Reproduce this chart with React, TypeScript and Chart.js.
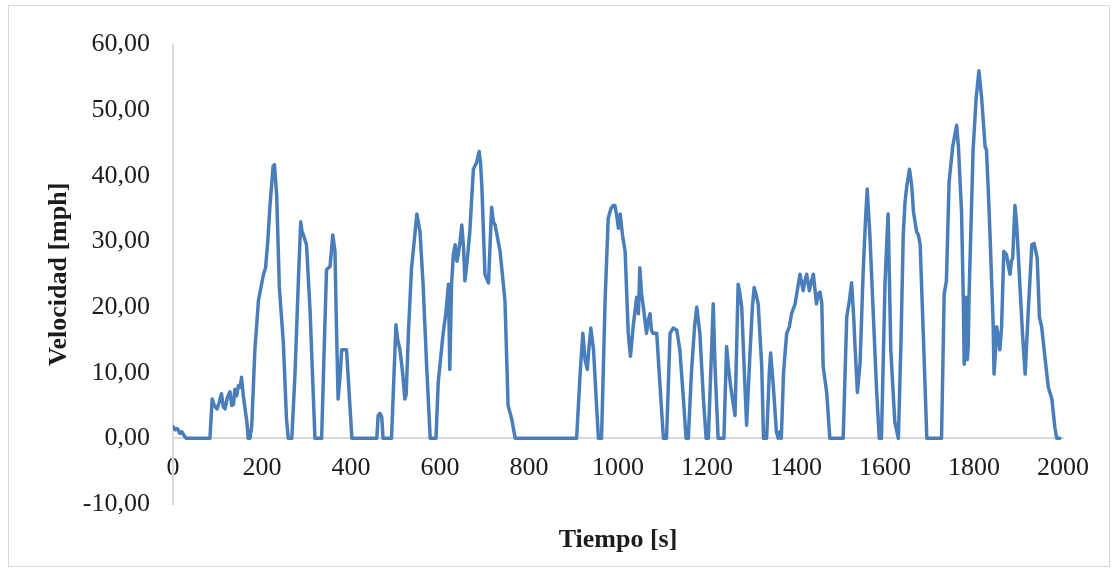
import React, { useEffect, useRef } from 'react';
import { Chart, registerables } from 'chart.js';

Chart.register(...registerables);

// Time (s) of each vertex of the speed trace
const timeS: number[] = [
  0, 5, 10, 15, 20, 26, 30, 83, 88, 93, 99, 104, 109, 113, 117, 122, 128, 132, 136, 139,
  143, 147, 151, 154, 158, 162, 166, 169, 173, 177, 184, 192, 203, 208, 213, 218, 225, 228, 233, 239,
  248, 255, 259, 267, 274, 282, 287, 290, 293, 300, 308, 315, 319, 334, 338, 345, 353, 359, 364, 367,
  371, 376, 379, 390, 402, 458, 461, 465, 469, 472, 491, 501, 505, 510, 516, 521, 524, 529, 536, 542,
  548, 555, 562, 570, 578, 591, 596, 607, 613, 619, 622, 626, 630, 634, 638, 641, 645, 649, 653, 656,
  661, 667, 675, 682, 688, 691, 694, 701, 709, 716, 720, 724, 735, 746, 753, 757, 761, 769, 907, 915,
  921, 926, 931, 935, 939, 945, 951, 956, 963, 971, 978, 984, 989, 993, 997, 1001, 1005, 1010, 1016, 1023,
  1028, 1034, 1042, 1046, 1049, 1053, 1057, 1064, 1068, 1072, 1075, 1079, 1087, 1094, 1102, 1109, 1117, 1124, 1132, 1139,
  1147, 1153, 1158, 1165, 1172, 1177, 1184, 1192, 1198, 1203, 1214, 1218, 1225, 1238, 1244, 1248, 1253, 1263, 1268, 1270,
  1274, 1278, 1284, 1289, 1297, 1302, 1306, 1310, 1315, 1323, 1327, 1334, 1340, 1343, 1349, 1356, 1360, 1364, 1367, 1372,
  1379, 1385, 1390, 1398, 1404, 1409, 1416, 1420, 1424, 1430, 1435, 1439, 1446, 1450, 1454, 1458, 1461, 1469, 1476, 1506,
  1514, 1520, 1525, 1530, 1533, 1538, 1544, 1551, 1556, 1560, 1566, 1574, 1581, 1587, 1592, 1600, 1604, 1607, 1610, 1613,
  1622, 1630, 1636, 1641, 1645, 1649, 1655, 1660, 1664, 1671, 1675, 1679, 1686, 1694, 1727, 1733, 1738, 1744, 1752, 1761,
  1765, 1772, 1776, 1778, 1781, 1783, 1785, 1787, 1789, 1791, 1798, 1805, 1811, 1817, 1825, 1828, 1832, 1836, 1843, 1845,
  1848, 1851, 1855, 1858, 1862, 1867, 1873, 1878, 1881, 1884, 1887, 1892, 1896, 1903, 1909, 1915, 1922, 1930, 1935, 1942,
  1947, 1952, 1960, 1967, 1975, 1982, 1986, 1993,
];

// Speed (mph) at each vertex
const speedMph: number[] = [
  1.8, 1.3, 1.5, 0.8, 1.0, 0.3, 0, 0, 6.0, 5.0, 4.5, 5.5, 6.8, 4.8, 4.5, 6.2, 7.1, 5.0, 5.2, 7.5,
  6.5, 8.0, 7.8, 9.3, 6.5, 4.5, 2.5, 0, 0, 2.0, 13.5, 21.0, 24.9, 26.0, 30.0, 35.5, 41.5, 41.7, 37.0, 23.0,
  14.5, 3.0, 0, 0, 9.6, 24.5, 33.0, 31.5, 31.0, 29.5, 19.5, 7.0, 0, 0, 9.6, 25.7, 26.2, 31.0, 28.5, 18.0,
  6.0, 10.0, 13.5, 13.5, 0, 0, 3.5, 3.8, 3.3, 0, 0, 17.3, 15.0, 13.5, 10.0, 6.0, 6.7, 16.0, 26.0, 30.0,
  34.2, 31.5, 23.5, 11.0, 0, 0, 8.5, 16.0, 19.0, 23.5, 10.5, 23.5, 28.0, 29.5, 27.0, 28.0, 30.0, 32.5, 29.0, 24.0,
  27.0, 31.5, 41.0, 42.0, 43.7, 42.0, 38.5, 25.0, 23.7, 35.2, 33.0, 32.5, 28.5, 21.0, 5.0, 4.0, 3.0, 0, 0, 10.0,
  16.0, 12.0, 10.5, 14.0, 16.8, 13.5, 6.0, 0, 0, 21.0, 33.5, 35.0, 35.5, 35.5, 34.0, 32.0, 34.2, 31.0, 28.5, 16.0,
  12.5, 17.0, 21.5, 19.0, 26.0, 22.0, 20.0, 16.0, 18.0, 19.0, 16.5, 16.0, 16.0, 8.5, 0, 0, 16.0, 16.8, 16.5, 13.5,
  6.0, 0, 0, 10.0, 17.0, 20.0, 16.0, 6.0, 0, 0, 20.5, 11.0, 0, 0, 14.0, 11.0, 8.0, 3.5, 18.0, 23.5,
  22.0, 20.0, 10.0, 2.0, 13.5, 20.0, 23.0, 22.0, 20.5, 11.0, 0, 0, 10.0, 13.0, 8.0, 1.0, 0, 1.0, 0, 10.0,
  16.0, 17.0, 19.0, 20.5, 23.0, 25.0, 22.5, 24.0, 25.0, 22.5, 24.0, 25.0, 20.5, 22.0, 22.3, 20.5, 11.0, 7.0, 0, 0,
  18.5, 21.0, 23.7, 18.0, 13.5, 7.0, 11.5, 25.5, 33.0, 38.0, 31.0, 18.5, 7.5, 0, 0, 23.5, 30.0, 34.2, 24.0, 13.5,
  2.5, 0, 15.0, 31.0, 36.0, 38.5, 41.0, 38.5, 34.5, 31.5, 31.0, 29.5, 16.0, 0, 0, 22.0, 24.0, 39.0, 44.4, 47.7,
  44.4, 34.5, 21.0, 11.3, 20.0, 21.5, 12.0, 14.0, 22.0, 22.0, 44.0, 52.0, 56.0, 52.0, 44.4, 44.0, 38.0, 31.0, 17.5, 9.8,
  13.0, 17.0, 15.0, 13.5, 17.0, 28.5, 28.0, 26.0, 25.0, 27.0, 27.5, 35.5, 32.5, 23.5, 16.0, 9.8, 19.5, 29.5, 29.7, 27.5,
  18.5, 17.0, 12.0, 7.8, 6.0, 1.5, 0, 0,
];

const xMin = 0;
const xMax = 2000;
const xStep = 200;
const yMin = -10;
const yMax = 60;
const yStep = 10;

const xTitle = 'Tiempo [s]';
const yTitle = 'Velocidad [mph]';

const serif = "'Liberation Serif', 'Times New Roman', serif";
const textColor = '#1c1c1c';
const axisColor = '#d9d9d9';
const lineColor = '#4a7ebb';

export default function App() {
  const canvasRef = useRef<HTMLCanvasElement>(null);

  useEffect(() => {
    if (!canvasRef.current) return;
    const points = timeS.map((t, i) => ({ x: t, y: speedMph[i] }));
    const chart = new Chart(canvasRef.current, {
      type: 'line',
      data: {
        datasets: [
          {
            data: points,
            borderColor: lineColor,
            borderWidth: 3.5,
            pointRadius: 0,
            tension: 0,
            fill: false,
            borderJoinStyle: 'round',
            borderCapStyle: 'round',
          },
        ],
      },
      options: {
        animation: false,
        responsive: false,
        layout: { padding: { left: 10, top: 30, right: 46, bottom: 62 } },
        plugins: {
          legend: { display: false },
          tooltip: { enabled: false },
        },
        scales: {
          x: {
            type: 'linear',
            min: xMin,
            max: xMax,
            position: { y: 0 },
            grid: { display: false, drawTicks: false },
            border: { display: true, color: axisColor, width: 2 },
            ticks: {
              stepSize: xStep,
              autoSkip: false,
              maxRotation: 0,
              padding: 14,
              color: textColor,
              font: { family: serif, size: 26 },
              callback: (v: any) => String(v),
            },
            title: {
              display: true,
              text: xTitle,
              color: textColor,
              font: { family: serif, size: 26, weight: 'bold' },
              padding: { top: 27, bottom: 0 },
            },
          },
          y: {
            type: 'linear',
            min: yMin,
            max: yMax,
            grid: { display: false, drawTicks: false },
            border: { display: true, color: axisColor, width: 2 },
            ticks: {
              stepSize: yStep,
              padding: 23,
              color: textColor,
              font: { family: serif, size: 26 },
              callback: (v: any) => Number(v).toFixed(2).replace('.', ','),
            },
            title: {
              display: true,
              text: yTitle,
              color: textColor,
              font: { family: serif, size: 26, weight: 'bold' },
              padding: { top: 25, bottom: 0 },
            },
            afterFit: (scale: any) => {
              scale.width = 154;
            },
          },
        },
      },
    } as any);
    return () => chart.destroy();
  }, []);

  return (
    <div
      style={{
        position: 'absolute',
        left: 8,
        top: 5,
        width: 1102,
        height: 562,
        border: `1px solid ${axisColor}`,
        boxSizing: 'border-box',
        background: '#fff',
      }}
    >
      <canvas ref={canvasRef} width={1100} height={560} style={{ display: 'block' }} />
    </div>
  );
}
